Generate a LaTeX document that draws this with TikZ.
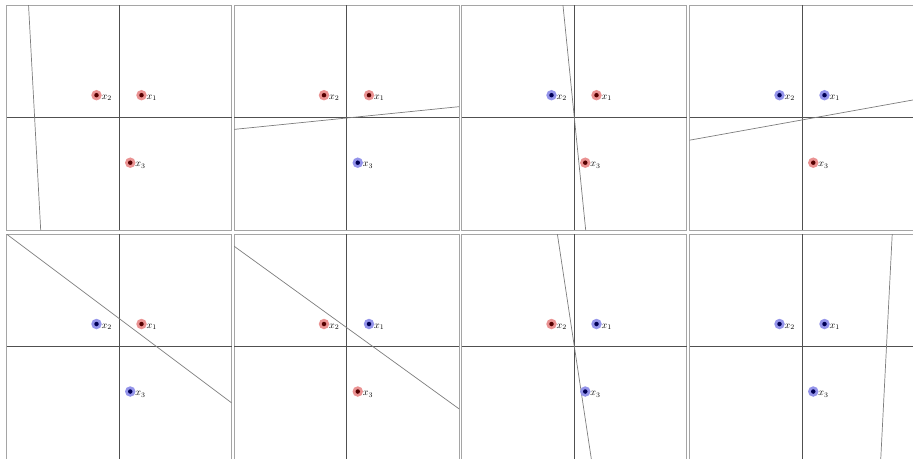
\documentclass[tikz,border=0pt]{standalone}
\definecolor{redhalo}{RGB}{234,146,146}
\definecolor{reddot}{RGB}{85,0,0}
\definecolor{bluehalo}{RGB}{148,148,234}
\definecolor{bluedot}{RGB}{0,0,85}
\definecolor{framegray}{RGB}{165,165,165}
\definecolor{axisgray}{RGB}{80,80,80}
\definecolor{sepgray}{RGB}{125,125,125}
\tikzset{
  frame/.style={draw=framegray, line width=0.9pt},
  axis/.style={draw=axisgray, line width=0.8pt},
  sepline/.style={draw=sepgray, line width=0.7pt},
  haloR/.style={circle, fill=redhalo, minimum size=10.5pt, inner sep=0pt},
  haloB/.style={circle, fill=bluehalo, minimum size=10.5pt, inner sep=0pt},
  dotR/.style={circle, fill=reddot, minimum size=4.5pt, inner sep=0pt},
  dotB/.style={circle, fill=bluedot, minimum size=4.5pt, inner sep=0pt},
  lbl/.style={anchor=base west, inner sep=0pt, xshift=5pt, yshift=-4pt}
}
% #1 name, #2 cx, #3 cy, #4/#5/#6 colours (R/B) of x1,x2,x3, #7 #8 separator ends
\newcommand\drawpanel[8]{%
  \begin{scope}[shift={(#2pt,-#3pt)}, x=22.5pt, y=22.5pt]
    \coordinate (#1bl) at (-5,-5);
    \coordinate (#1tr) at (5,5);
    \coordinate (#1l) at (-5,0);
    \coordinate (#1r) at (5,0);
    \coordinate (#1b) at (0,-5);
    \coordinate (#1t) at (0,5);
    \coordinate (#1sa) at #7;
    \coordinate (#1sb) at #8;
    \draw[frame] (#1bl) rectangle (#1tr);
    \draw[axis] (#1l) -- (#1r);
    \draw[axis] (#1b) -- (#1t);
    \begin{scope}
      \clip (#1bl) rectangle (#1tr);
      \draw[sepline] (#1sa) -- (#1sb);
    \end{scope}
    \node[halo#4] (#1h1) at (1,1) {};
    \node[dot#4] (#1p1) at (1,1) {};
    \node[lbl] (#1n1) at (#1p1.center) {$x_1$};
    \node[halo#5] (#1h2) at (-1,1) {};
    \node[dot#5] (#1p2) at (-1,1) {};
    \node[lbl] (#1n2) at (#1p2.center) {$x_2$};
    \node[halo#6] (#1h3) at (0.5,-2) {};
    \node[dot#6] (#1p3) at (0.5,-2) {};
    \node[lbl] (#1n3) at (#1p3.center) {$x_3$};
  \end{scope}}
\begin{document}
\begin{tikzpicture}
  \useasboundingbox (0pt,0pt) rectangle (913pt,-458pt);
  \clip (0pt,0pt) rectangle (913pt,-458pt);
  \drawpanel{pa}{119}{117.7}{R}{R}{R}{(-4.02,5)}{(-3.48,-5)}
  \drawpanel{pb}{346.5}{117.7}{R}{R}{B}{(-5,-0.52)}{(5,0.49)}
  \drawpanel{pc}{574}{117.7}{R}{B}{R}{(-0.49,5)}{(0.52,-5)}
  \drawpanel{pd}{802}{117.7}{B}{B}{R}{(-5,-1.0)}{(5,0.8)}
  \drawpanel{pe}{119}{346.5}{R}{B}{B}{(-5,5)}{(5,-2.5)}
  \drawpanel{pf}{346.5}{346.5}{B}{R}{R}{(-5,4.46)}{(5,-2.77)}
  \drawpanel{pg}{574}{346.5}{B}{R}{B}{(-0.74,5)}{(0.77,-5)}
  \drawpanel{ph}{802}{346.5}{B}{B}{B}{(4.01,5)}{(3.5,-5)}
\end{tikzpicture}
\end{document}
